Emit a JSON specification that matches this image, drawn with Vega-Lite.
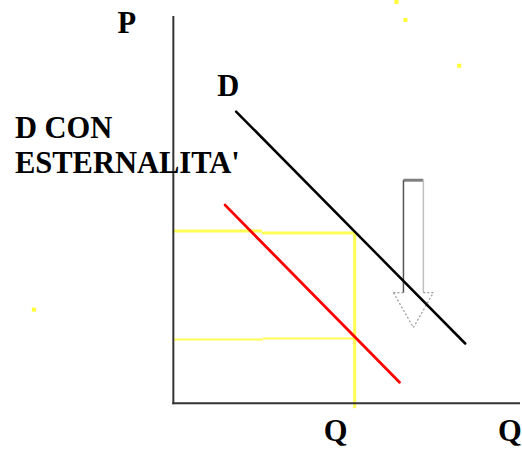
{
  "$schema": "https://vega.github.io/schema/vega-lite/v6.json",
  "width": 522,
  "height": 457,
  "padding": 0,
  "autosize": {"type": "fit", "contains": "padding"},
  "background": "white",
  "config": {"view": {"stroke": null}},
  "datasets": {
    "segs": [
      {"kind": "yellow_thick", "q": 0, "p": 173, "q2": 89, "p2": 173},
      {"kind": "yellow_thick", "q": 89, "p": 171, "q2": 182, "p2": 171},
      {"kind": "yellow_thick", "q": 182, "p": 172, "q2": 182, "p2": -5},
      {"kind": "yellow_thin", "q": 0, "p": 64, "q2": 90, "p2": 64},
      {"kind": "yellow_thin", "q": 90, "p": 65, "q2": 182, "p2": 65},
      {"kind": "axis", "q": 0, "p": 389, "q2": 0, "p2": -1},
      {"kind": "axis", "q": -1, "p": 0, "q2": 348, "p2": 0},
      {"kind": "red", "q": 52, "p": 199, "q2": 227, "p2": 21},
      {"kind": "black", "q": 63, "p": 293, "q2": 293, "p2": 60},
      {"kind": "arrow_top", "q": 231, "p": 224, "q2": 251, "p2": 224},
      {"kind": "arrow_left", "q": 231, "p": 224, "q2": 231, "p2": 111},
      {"kind": "arrow_right", "q": 251, "p": 224, "q2": 251, "p2": 111},
      {"kind": "arrow_head", "q": 231, "p": 111, "q2": 221, "p2": 111},
      {"kind": "arrow_head", "q": 221, "p": 111, "q2": 241, "p2": 76},
      {"kind": "arrow_head", "q": 241, "p": 76, "q2": 261, "p2": 111},
      {"kind": "arrow_head", "q": 261, "p": 111, "q2": 251, "p2": 111}
    ],
    "labels": [
      {"text": "P", "q": -56, "p": 372},
      {"text": "D", "q": 44, "p": 309},
      {"text": "D CON", "q": -159, "p": 266},
      {"text": "ESTERNALITA'", "q": -159, "p": 231},
      {"text": "Q", "q": 151, "p": -38},
      {"text": "Q", "q": 326, "p": -38}
    ],
    "dots": [
      {"q": -140, "p": 94},
      {"q": 224, "p": 403},
      {"q": 233, "p": 385},
      {"q": 287, "p": 339}
    ]
  },
  "encoding": {
    "x": {"field": "q", "type": "quantitative", "scale": {"domain": [-174, 348], "nice": false, "zero": false}, "axis": null},
    "y": {"field": "p", "type": "quantitative", "scale": {"domain": [-54, 403], "nice": false, "zero": false}, "axis": null}
  },
  "layer": [
    {
      "data": {"name": "segs"},
      "transform": [{"filter": "datum.kind === 'yellow_thick'"}],
      "mark": {"type": "rule", "color": "#ffff55", "strokeWidth": 3},
      "encoding": {"x2": {"field": "q2"}, "y2": {"field": "p2"}}
    },
    {
      "data": {"name": "segs"},
      "transform": [{"filter": "datum.kind === 'yellow_thin'"}],
      "mark": {"type": "rule", "color": "#ffff55", "strokeWidth": 2},
      "encoding": {"x2": {"field": "q2"}, "y2": {"field": "p2"}}
    },
    {
      "data": {"name": "segs"},
      "transform": [{"filter": "datum.kind === 'axis'"}],
      "mark": {"type": "rule", "color": "#333333", "strokeWidth": 2},
      "encoding": {"x2": {"field": "q2"}, "y2": {"field": "p2"}}
    },
    {
      "data": {"name": "segs"},
      "transform": [{"filter": "datum.kind === 'red'"}],
      "mark": {"type": "rule", "color": "#ff0000", "strokeWidth": 2.8, "strokeCap": "round"},
      "encoding": {"x2": {"field": "q2"}, "y2": {"field": "p2"}}
    },
    {
      "data": {"name": "segs"},
      "transform": [{"filter": "datum.kind === 'arrow_top'"}],
      "mark": {"type": "rule", "color": "#808080", "strokeWidth": 3},
      "encoding": {"x2": {"field": "q2"}, "y2": {"field": "p2"}}
    },
    {
      "data": {"name": "segs"},
      "transform": [{"filter": "datum.kind === 'arrow_left'"}],
      "mark": {"type": "rule", "color": "#555555", "strokeWidth": 1.5},
      "encoding": {"x2": {"field": "q2"}, "y2": {"field": "p2"}}
    },
    {
      "data": {"name": "segs"},
      "transform": [{"filter": "datum.kind === 'arrow_right'"}],
      "mark": {"type": "rule", "color": "#c0c0c0", "strokeWidth": 1.5},
      "encoding": {"x2": {"field": "q2"}, "y2": {"field": "p2"}}
    },
    {
      "data": {"name": "segs"},
      "transform": [{"filter": "datum.kind === 'arrow_head'"}],
      "mark": {"type": "rule", "color": "#999999", "strokeWidth": 1.2, "strokeDash": [2, 2]},
      "encoding": {"x2": {"field": "q2"}, "y2": {"field": "p2"}}
    },
    {
      "data": {"name": "segs"},
      "transform": [{"filter": "datum.kind === 'black'"}],
      "mark": {"type": "rule", "color": "#000000", "strokeWidth": 2.5, "strokeCap": "round"},
      "encoding": {"x2": {"field": "q2"}, "y2": {"field": "p2"}}
    },
    {
      "data": {"name": "dots"},
      "mark": {"type": "square", "color": "#ffff33", "size": 16, "opacity": 1, "filled": true}
    },
    {
      "data": {"name": "labels"},
      "mark": {"type": "text", "align": "left", "baseline": "alphabetic", "font": "serif", "fontSize": 30.5, "fontWeight": "bold", "color": "#000000"},
      "encoding": {"text": {"field": "text"}}
    }
  ]
}
